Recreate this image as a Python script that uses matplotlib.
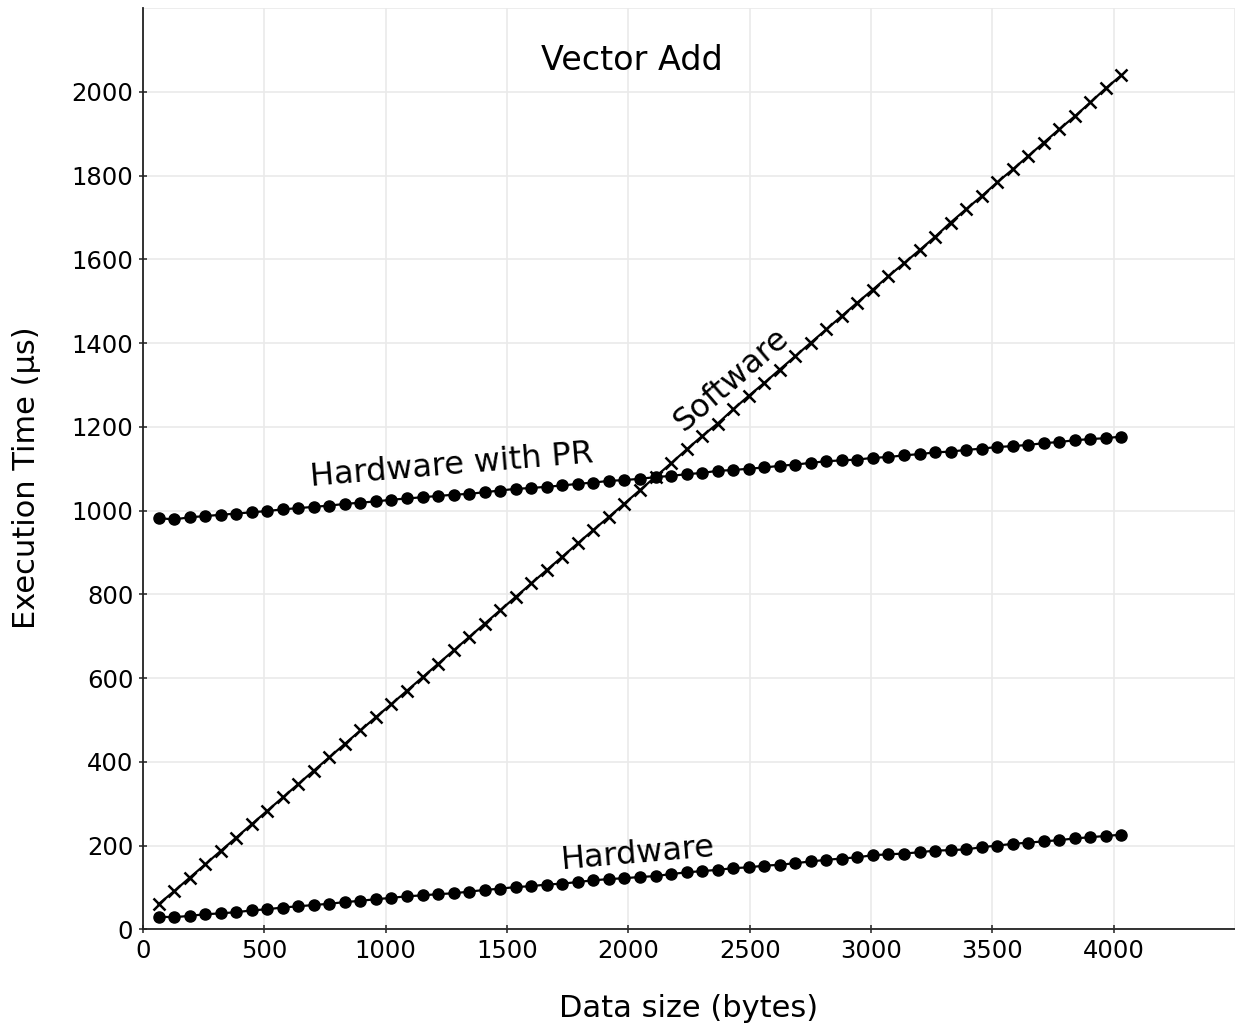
import matplotlib
matplotlib.use("Agg")
import matplotlib.pyplot as plt

# ---- data ----
data_size = [64, 128, 192, 256, 320, 384, 448, 512, 576, 640, 704, 768, 832, 896, 960,
             1024, 1088, 1152, 1216, 1280, 1344, 1408, 1472, 1536, 1600, 1664, 1728, 1792,
             1856, 1920, 1984, 2048, 2112, 2176, 2240, 2304, 2368, 2432, 2496, 2560, 2624,
             2688, 2752, 2816, 2880, 2944, 3008, 3072, 3136, 3200, 3264, 3328, 3392, 3456,
             3520, 3584, 3648, 3712, 3776, 3840, 3904, 3968, 4032]

software = [60, 91, 123, 155, 187, 219, 251, 283, 315, 347,
            379, 411, 443, 475, 507, 538, 570, 602, 634, 666,
            698, 730, 762, 794, 826, 858, 890, 922, 954, 985,
            1017, 1049, 1081, 1113, 1146,
            1178, 1208, 1242, 1274, 1305, 1337, 1369, 1401, 1433, 1465,
            1497, 1528, 1560, 1591, 1622, 1654, 1688, 1720, 1751, 1784,
            1815, 1847, 1879, 1911, 1942, 1975, 2009, 2040]

hardware_pr = [982, 979, 984, 987, 990, 993, 996, 999, 1003, 1006,
               1009, 1012, 1016, 1019, 1022, 1026, 1029, 1032, 1035, 1038,
               1040, 1044, 1048, 1052, 1054, 1057, 1060, 1064, 1067, 1071,
               1073, 1076,
               1080, 1083, 1087, 1090, 1095, 1097, 1100, 1103, 1107, 1110,
               1114, 1118, 1120, 1122, 1126, 1128, 1132, 1135, 1139, 1141,
               1145, 1148, 1152, 1154, 1157, 1161, 1164, 1168, 1171, 1173, 1177]

hardware = [30, 29, 32, 36, 38, 41, 45, 48, 52, 55,
            58, 61, 65, 68, 72, 75, 79, 81, 84, 86,
            90, 94, 97, 101, 103, 107, 109, 113, 117, 120,
            122, 125,
            127, 132, 136, 139, 142, 146, 148, 152, 154, 158,
            162, 166, 169, 172, 177, 179, 181, 184, 188, 189,
            191, 196, 200, 204, 207, 210, 213, 217, 220, 223, 226]

x_ticks = [0, 500, 1000, 1500, 2000, 2500, 3000, 3500, 4000]
y_ticks = [0, 200, 400, 600, 800, 1000, 1200, 1400, 1600, 1800, 2000]

title = "Vector Add"
x_label = "Data size (bytes)"
y_label = "Execution Time (µs)"

plt.rcParams['font.family'] = ['DejaVu Sans']

fig = plt.figure(figsize=(12.35, 10.36), dpi=100)
ax = fig.add_axes([143 / 1235, 1 - 929.3 / 1036, 1 - 143 / 1235, (929.3 - 8.2) / 1036])

grid_c = '#eaeaea'
ax.set_xlim(0, 4500)
ax.set_ylim(0, 2200)
ax.set_xticks(x_ticks)
ax.set_yticks(y_ticks)
ax.grid(True, color=grid_c, linewidth=1.2, zorder=0)
ax.axhline(2200, color=grid_c, linewidth=1.2, zorder=0)
ax.axvline(4500, color=grid_c, linewidth=1.2, zorder=0)
ax.set_axisbelow(True)

for s in ['top', 'right']:
    ax.spines[s].set_visible(False)
for s in ['left', 'bottom']:
    ax.spines[s].set_color('#222222')
    ax.spines[s].set_linewidth(1.3)

ax.tick_params(axis='both', direction='inout', length=6, width=1.1, color='#222222',
               labelsize=17.5, pad=4)

ax.plot(data_size, software, color='black', lw=1.6, marker='x', ms=9, mew=1.8, zorder=3)
ax.plot(data_size, hardware_pr, color='black', lw=1.6, marker='o', ms=8, zorder=3)
ax.plot(data_size, hardware, color='black', lw=1.6, marker='o', ms=8, zorder=3)

lab_kw = dict(fontsize=23, ha='center', va='center', rotation_mode='anchor')
ax.text(1273, 1108, "Hardware with PR", rotation=4.8, **lab_kw)
ax.text(2426, 1312, "Software", rotation=40.7, **lab_kw)
ax.text(2039, 180, "Hardware", rotation=4.9, **lab_kw)
ax.text(2014, 2076, title, fontsize=24, ha='center', va='center')

ax.set_xlabel(x_label, fontsize=22, labelpad=22)
ax.set_ylabel(y_label, fontsize=22, labelpad=22, y=0.49)

fig.savefig("out.png", dpi=100)
